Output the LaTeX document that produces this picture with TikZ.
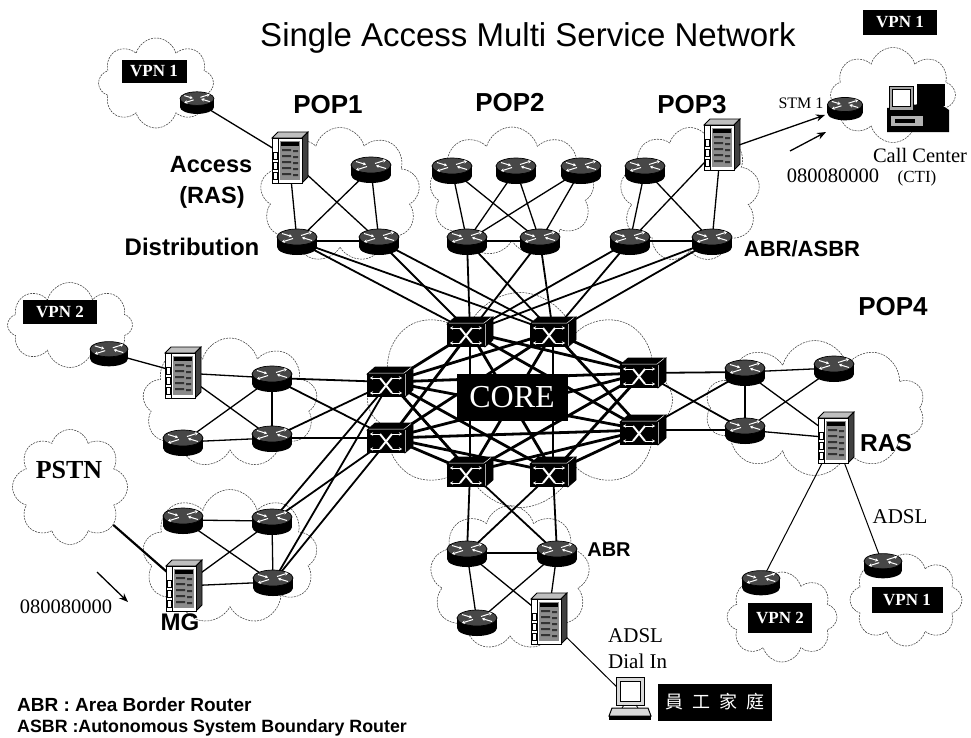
\documentclass[tikz,border=0pt]{standalone}
\usepackage{fontspec}
\setmainfont{Liberation Serif}
\setsansfont{Liberation Sans}
\newfontfamily\cjkfont{Noto Sans CJK TC}
\usetikzlibrary{shapes.symbols,arrows.meta,backgrounds}
\newcommand{\fsz}[1]{\fontsize{#1}{#1}\selectfont}

\tikzset{
  % router: black cylinder with a dark grey top carrying four white arrows
  routericon/.pic={
    \fill[black] (-20,-4) rectangle (20,6);
    \fill[black] (0,6) ellipse [x radius=20, y radius=8];
    \filldraw[fill=black!72, draw=black, line width=0.7pt] (0,-4) ellipse [x radius=20, y radius=8];
    \begin{scope}[white, line width=1pt, -{Stealth[length=3pt,width=3.5pt]}]
      \draw (-15,-7.5) -- (-5,-4.5);
      \draw (15,-0.5) -- (5,-3.5);
      \draw (4,-5.5) -- (15,-9);
      \draw (-4,-2.5) -- (-15,1);
    \end{scope}
  },
  % workgroup switch: black box with a white cross and corner arrows
  switchicon/.pic={
    \filldraw[black, line width=0.6pt] (-23,-8) -- (-15,-15) -- (23,-15) -- (15,-8) -- cycle;
    \filldraw[black, line width=0.6pt] (15,-8) -- (23,-15) -- (23,8) -- (15,15) -- cycle;
    \fill[black] (-23,-8) rectangle (15,15);
    \draw[white, line width=0.5pt] (-21,-9) -- (14,-9) -- (21,-14.5) (15.5,-8) -- (15.5,13.5);
    \draw[white, line width=2pt] (-10,-4) -- (2,11) (-10,11) -- (2,-4);
    \begin{scope}[white, line width=0.8pt, -{Stealth[length=3pt,width=3.5pt]}]
      \draw (-10,-4) -- (-20,-4);
      \draw (2,-4) -- (12,-4);
      \draw (-10,11) -- (-20,11);
      \draw (2,11) -- (12,11);
    \end{scope}
  },
  % access server tower
  servericon/.pic={
    \filldraw[fill=black!25, draw=black, line width=0.8pt] (-17,-20) -- (-11,-26) -- (19,-26) -- (13,-20) -- cycle;
    \filldraw[fill=black!75, draw=black, line width=0.8pt] (13,-20) -- (19,-26) -- (19,19) -- (13,25) -- cycle;
    \filldraw[fill=white, draw=black, line width=1pt] (-17,-20) rectangle (13,25);
    \draw[black, line width=0.8pt] (-11,-20) -- (-11,25);
    \foreach \yy in {-6,4,14}
      \filldraw[fill=white, draw=black, line width=0.7pt] (-16,\yy) rectangle (-12,\yy+7);
    \fill[black!45] (-9,-17) rectangle (11,22);
    \fill[black] (-8,-16) rectangle (10,-12);
    \foreach \yy in {-9,-3,3,9,15}
      \fill[black!80] (-7,\yy) rectangle (2,\yy+2) (4,\yy+1) rectangle (9,\yy+3);
  },
  % desktop computer
  pcicon/.pic={
    \filldraw[fill=black!15, draw=black, line width=1pt] (-14,-23) rectangle (14,5);
    \filldraw[fill=white, draw=black, line width=0.8pt] (-10,-19) rectangle (10,1);
    \filldraw[fill=black!15, draw=black, line width=1pt] (-18,8) -- (18,8) -- (21,16) -- (-21,16) -- cycle;
    \fill[black] (-21,16) rectangle (21,20);
    \draw[line width=0.8pt] (-6,5) -- (-8,8) (6,5) -- (8,8);
  },
  % call centre workstation
  deskicon/.pic={
    \fill[black] (-28,0) -- (22,-6) -- (34,2) -- (34,24) -- (-28,24) -- cycle;
    \fill[black] (2,-24) rectangle (30,-2);
    \filldraw[fill=black!35, draw=black, line width=0.8pt] (-26,-22) rectangle (-2,2);
    \filldraw[fill=white, draw=black] (-23,-19) rectangle (-5,-2);
    \fill[black!30] (-24,8) rectangle (8,18);
    \fill[black] (-20,11) rectangle (0,15);
  },
  rnode/.style={inner sep=0pt, outer sep=0pt, minimum width=40pt, minimum height=26pt},
  snode/.style={inner sep=0pt, outer sep=0pt, minimum width=36pt, minimum height=50pt},
  wnode/.style={inner sep=0pt, outer sep=0pt, minimum width=46pt, minimum height=30pt},
  cloudy/.style={cloud, cloud puffs=#1, cloud ignores aspect, draw=black!75,
                 line width=0.55pt, dash pattern=on 2pt off 1pt, inner sep=0pt},
  cloudy/.default=10,
  lan/.style={line width=1.3pt},
  thin link/.style={line width=1pt},
  uplink/.style={line width=1.8pt},
  mesh/.style={line width=2.8pt},
  sans/.style={font=\sffamily\fsz{#1}, inner sep=0pt},
  bsans/.style={font=\sffamily\bfseries\fsz{#1}, inner sep=0pt},
  serif/.style={font=\rmfamily\fsz{#1}, inner sep=0pt},
  vpn/.style={fill=black, text=white, font=\rmfamily\bfseries\fsz{17}, inner sep=0pt, minimum height=23pt},
}

\newcommand{\rtr}[3][1]{\node[rnode] (#2) at (#3) {}; \pic[scale=#1] at (#2) {routericon};}
\newcommand{\srv}[2]{\node[snode] (#1) at (#2) {}; \pic at (#1) {servericon};}
\newcommand{\swt}[2]{\node[wnode] (#1) at (#2) {}; \pic at (#1) {switchicon};}

\begin{document}
\begin{tikzpicture}[x=1pt, y=-1pt]
\useasboundingbox (0,0) rectangle (971,737);

% ---------- title ----------
\node[sans=33] (title) at (528,38) {Single Access Multi Service Network};

% ---------- POP1 ----------
\rtr[0.85]{v1r}{197,102}
\srv{p1ras}{289,158}
\rtr{p1t}{371,169}
\rtr{p1a}{297,241}
\rtr{p1b}{379,241}
\node[vpn, minimum width=65pt] (vb1) at (154,71) {VPN 1};
\node[bsans=26] (pop1) at (328,105) {POP1};
\node[bsans=23.5] (lacc) at (211,165) {Access};
\node[bsans=23.5] (lras1) at (212,197) {(RAS)};
\node[bsans=24] (ldist) at (192,247) {Distribution};

% ---------- POP2 ----------
\rtr{p2t1}{452,170}
\rtr{p2t2}{516,170}
\rtr{p2t3}{581,170}
\rtr{p2a}{467,241}
\rtr{p2b}{540,241}
\node[bsans=26] (pop2) at (510,103) {POP2};

% ---------- POP3 ----------
\rtr{p3t}{645,170}
\srv{p3ras}{721,145}
\rtr{p3a}{630,241}
\rtr{p3b}{712,241}
\node[bsans=26] (pop3) at (692,105) {POP3};
\node[bsans=22] (labr1) at (802,249) {ABR/ASBR};

% ---------- call centre ----------
\rtr[0.88]{stmr}{845,108}
\node[inner sep=0pt, minimum width=70pt, minimum height=50pt] (cc) at (915,108) {};
\pic at (cc) {deskicon};
\node[vpn, minimum width=74pt, minimum height=25pt] (vb2) at (900,22) {VPN 1};
\node[serif=16] (lstm) at (801,103) {STM 1};
\node[serif=20.5] (lnum1) at (833,176) {080080000};
\node[serif=20.5] (lcall) at (920,155) {Call Center};
\node[serif=17] (lcti) at (917,178) {(CTI)};

% ---------- core ----------
\swt{c1}{470,332}
\swt{c2}{553,332}
\swt{c3}{390,382}
\swt{c4}{390,438}
\swt{c5}{643,373}
\swt{c6}{643,430}
\swt{c7}{470,472}
\swt{c8}{553,472}
\node[fill=black, text=white, font=\rmfamily\fsz{32}, minimum width=111pt, minimum height=47pt, inner sep=0pt] (core) at (512,397) {CORE};

% ---------- POP4 ----------
\rtr{p4a}{745,372}
\rtr{p4b}{745,430}
\rtr{p4t}{834,368}
\srv{p4ras}{835,438}
\node[bsans=26] (pop4) at (893,307) {POP4};
\node[bsans=24.5] (lras4) at (886,443) {RAS};
\node[serif=21] (ladsl1) at (900,517) {ADSL};
\rtr[0.95]{v2r}{761,582}
\rtr[0.95]{v1r2}{883,565}
\node[vpn, minimum width=64pt, minimum height=30pt] (vb4) at (780,618) {VPN 2};
\node[vpn, minimum width=71pt, minimum height=26pt] (vb5) at (907,600) {VPN 1};

% ---------- bottom POP ----------
\rtr{b1}{467,553}
\rtr{b2}{557,553}
\rtr{b3}{477,622}
\srv{bsrv}{548,619}
\node[bsans=20] (labr2) at (609,550) {ABR};
\node[serif=21, anchor=west] (ladsl2) at (608,636) {ADSL};
\node[serif=21, anchor=west] (ldial) at (608,661) {Dial In};
\node[inner sep=0pt, minimum width=42pt, minimum height=46pt] (pc) at (630,700) {};
\pic at (pc) {pcicon};
\node[fill=black, text=white, minimum width=114pt, minimum height=37pt, inner sep=0pt,
      font=\cjkfont\fsz{18}] (home) at (715,702) {員\hspace{9pt}工\hspace{9pt}家\hspace{9pt}庭};

% ---------- left upper POP ----------
\rtr[0.95]{v2rL}{109,353}
\srv{lras}{182,373}
\rtr{l1}{272,378}
\rtr{l2}{272,438}
\rtr{l3}{183,442}
\node[vpn, minimum width=74pt, minimum height=24pt] (vb3) at (60,312) {VPN 2};

% ---------- left lower POP ----------
\rtr{m1}{183,520}
\rtr{m2}{272,521}
\rtr{m3}{273,582}
\srv{mg}{183,586}
\node[bsans=24] (lmg) at (180,622) {MG};
\node[serif=20.5] (lnum2) at (66,607) {080080000};
\node[font=\rmfamily\bfseries\fsz{26}, inner sep=0pt] (lpstn) at (69,470) {PSTN};

% ---------- legend ----------
\node[bsans=19, anchor=west] (leg1) at (17,705) {ABR : Area Border Router};
\node[bsans=17.8, anchor=west] (leg2) at (17,728) {ASBR :Autonomous System Boundary Router};

% ---------- free arrow ends ----------
\coordinate (n1s) at (790,151);
\coordinate (n1e) at (826,132);
\coordinate (n2s) at (97,572);
\coordinate (n2e) at (128,602);

\begin{scope}[on background layer]
  % clouds
  \node[cloudy=8, minimum width=115pt, minimum height=90pt] (k1) at (156,83) {};
  \node[cloudy=9, minimum width=160pt, minimum height=135pt] (k2) at (340,195) {};
  \node[cloudy=9, minimum width=165pt, minimum height=130pt] (k3) at (512,192) {};
  \node[cloudy=9, minimum width=140pt, minimum height=135pt] (k4) at (690,195) {};
  \node[cloudy=8, minimum width=305pt, minimum height=215pt] (k5) at (520,400) {};
  \node[cloudy=10, minimum width=220pt, minimum height=135pt] (k6) at (815,408) {};
  \node[cloudy=9, minimum width=175pt, minimum height=130pt] (k7) at (230,403) {};
  \node[cloudy=8, minimum width=125pt, minimum height=85pt] (k8) at (70,325) {};
  \node[cloudy=8, minimum width=115pt, minimum height=115pt] (pstn) at (70,487) {};
  \node[cloudy=9, minimum width=175pt, minimum height=135pt] (k9) at (230,557) {};
  \node[cloudy=9, minimum width=160pt, minimum height=145pt] (k10) at (510,578) {};
  \node[cloudy=8, minimum width=125pt, minimum height=95pt] (k11) at (893,95) {};
  \node[cloudy=8, minimum width=110pt, minimum height=90pt] (k12) at (782,617) {};
  \node[cloudy=8, minimum width=112pt, minimum height=92pt] (k13) at (906,600) {};

  % links inside the POPs
  \foreach \a/\b in {v1r/p1ras, p1ras/p1a, p1ras/p1b, p1t/p1a, p1t/p1b, p1a/p1b,
                     p2t1/p2a, p2t1/p2b, p2t2/p2a, p2t2/p2b, p2t3/p2a, p2t3/p2b, p2a/p2b,
                     p3t/p3a, p3t/p3b, p3ras/p3a, p3ras/p3b, p3a/p3b,
                     p4a/p4t, p4a/p4b, p4a/p4ras, p4b/p4t, p4b/p4ras,
                     b1/b2, b1/b3, b1/bsrv, b2/b3, b2/bsrv,
                     v2rL/lras, lras/l1, lras/l2, l3/l1, l3/l2, l1/l2,
                     m1/m2, m1/m3, mg/m2, mg/m3, m2/m3}
    \draw[lan] (\a.center) -- (\b.center);
  \foreach \a/\b in {p4ras/v2r, p4ras/v1r2, bsrv/pc}
    \draw[thin link] (\a.center) -- (\b.center);

  % uplinks to the core
  \foreach \a/\b in {p1a/c1, p1a/c2, p1b/c1, p1b/c2, p2a/c1, p2a/c2, p2b/c1, p2b/c2,
                     p3a/c1, p3a/c2, p3b/c1, p3b/c2,
                     l1/c3, l1/c4, l2/c3, l2/c4, m2/c3, m2/c4, m3/c3, m3/c4,
                     p4a/c5, p4a/c6, p4b/c5, p4b/c6,
                     b1/c7, b1/c8, b2/c7, b2/c8}
    \draw[uplink] (\a.center) -- (\b.center);

  % core mesh
  \foreach \a/\b in {c1/c3, c1/c4, c1/c5, c1/c6, c1/c7, c1/c8,
                     c2/c3, c2/c4, c2/c5, c2/c6, c2/c7, c2/c8,
                     c3/c5, c3/c6, c3/c7, c3/c8, c4/c5, c4/c6, c4/c7, c4/c8,
                     c5/c7, c5/c8, c6/c7, c6/c8}
    \draw[mesh] (\a.center) -- (\b.center);

  % PSTN trunk into the media gateway
  \draw[line width=2.2pt] (pstn) -- (mg.center);
\end{scope}

% arrows
\draw[lan, -{Stealth[length=9pt,width=7pt]}] (p3ras.east) -- (stmr);
\draw[lan, -{Stealth[length=9pt,width=7pt]}] (n1s) -- (n1e);
\draw[lan, -{Stealth[length=9pt,width=7pt]}] (n2s) -- (n2e);
\end{tikzpicture}
\end{document}
